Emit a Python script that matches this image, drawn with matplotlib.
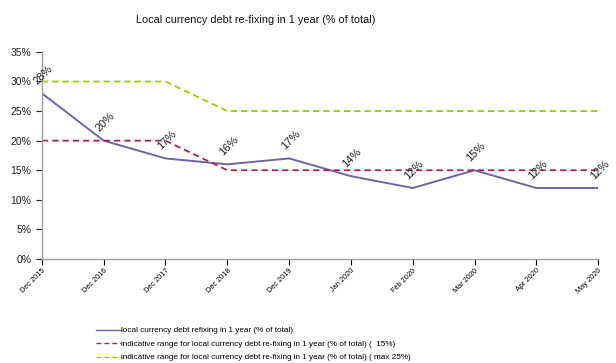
import matplotlib

matplotlib.use("Agg")
import matplotlib.pyplot as plt
from matplotlib.ticker import PercentFormatter

plt.rcParams["font.family"] = ["Liberation Sans", "DejaVu Sans"]

periods = ["Dec 2015", "Dec 2016", "Dec 2017", "Dec 2018", "Dec 2019",
           "Jan 2020", "Feb 2020", "Mar 2020", "Apr 2020", "May 2020"]
refixing = [28, 20, 17, 16, 17, 14, 12, 15, 12, 12]
range_low = [20, 20, 20, 15, 15, 15, 15, 15, 15, 15]
range_max = [30, 30, 30, 25, 25, 25, 25, 25, 25, 25]
yticks = [0, 5, 10, 15, 20, 25, 30, 35]

label_main = "local currency debt refixing in 1 year (% of total)"
label_low = "indicative range for local currency debt re-fixing in 1 year (% of total) (  15%)"
label_max = "indicative range for local currency debt re-fixing in 1 year (% of total) ( max 25%)"

fig = plt.figure(figsize=(6.16, 3.63), dpi=100)
ax = fig.add_axes([0.068, 0.2865, 0.903, 0.5705])

x = list(range(len(periods)))
ax.plot(x, refixing, color="#6B66A6", linewidth=1.4, label=label_main)
ax.plot(x, range_low, color="#A3275E", linewidth=1.3, linestyle=(0, (3.5, 2.2)), label=label_low)
ax.plot(x, range_max, color="#9ACD00", linewidth=1.3, linestyle=(0, (3.5, 2.2)), label=label_max)

for xi, v in zip(x, refixing):
    ax.annotate(f"{v}%", (xi, v), xytext=(1, 5), textcoords="offset points",
                ha="center", va="bottom", rotation=45, fontsize=8, color="#222222")

ax.set_xlim(0, len(periods) - 1)
ax.set_ylim(0, 35)
ax.set_yticks(yticks)
ax.yaxis.set_major_formatter(PercentFormatter(decimals=0))
ax.set_xticks(x)
ax.set_xticklabels(periods, rotation=45, ha="right", rotation_mode="anchor", fontsize=5.3)
ax.tick_params(axis="y", labelsize=7.5, colors="#222222", length=4, width=0.8)
ax.tick_params(axis="x", length=4, width=0.8, pad=2)
for t in ax.get_yticklines() + ax.get_xticklines():
    t.set_color("#A0A0A0")

for side in ("top", "right"):
    ax.spines[side].set_visible(False)
for side in ("left", "bottom"):
    ax.spines[side].set_color("#A0A0A0")
    ax.spines[side].set_linewidth(1.0)

fig.text(0.415, 0.945, "Local currency debt re-fixing in 1 year (% of total)",
         ha="center", va="center", fontsize=7.8, color="#111111")

leg = fig.legend(loc="upper left", bbox_to_anchor=(0.156, 0.10), frameon=False,
                 fontsize=5.9, handlelength=3.0, handletextpad=0.1, labelspacing=0.7,
                 borderaxespad=0, borderpad=0)
for line in leg.get_lines():
    line.set_linewidth(1.0)

fig.savefig("out.png", dpi=100)
